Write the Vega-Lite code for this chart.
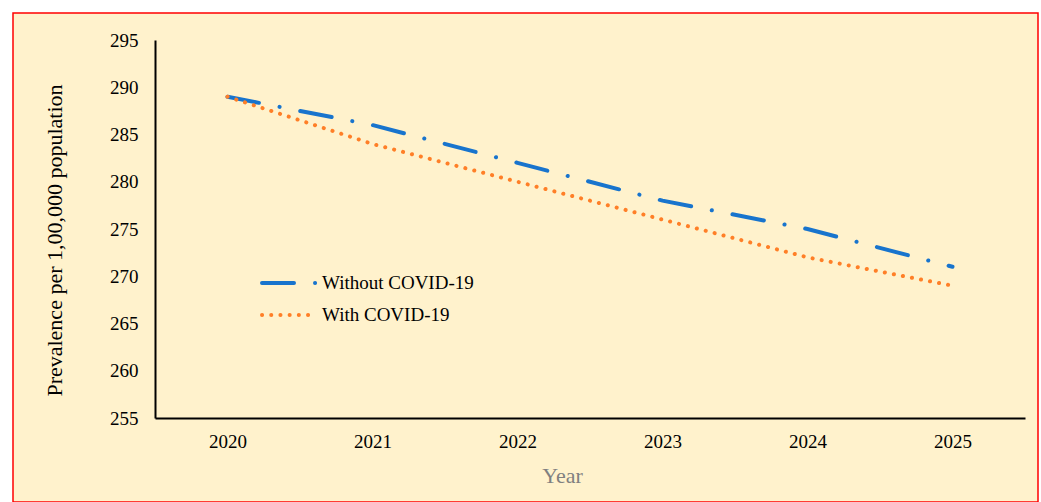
{
  "$schema": "https://vega.github.io/schema/vega-lite/v6.json",
  "autosize": "none",
  "padding": {"left": 13, "top": 13, "right": 3, "bottom": 0},
  "width": 1025,
  "height": 489,
  "background": "#FFFFFF",
  "config": {
    "view": {"fill": "#FFF2CC", "stroke": "#FF0000", "strokeWidth": 1.5},
    "font": "Liberation Serif"
  },
  "data": {
    "values": [
      {"Year": "2020", "Scenario": "Without COVID-19", "Value": 289},
      {"Year": "2021", "Scenario": "Without COVID-19", "Value": 286},
      {"Year": "2022", "Scenario": "Without COVID-19", "Value": 282},
      {"Year": "2023", "Scenario": "Without COVID-19", "Value": 278},
      {"Year": "2024", "Scenario": "Without COVID-19", "Value": 275},
      {"Year": "2025", "Scenario": "Without COVID-19", "Value": 271},
      {"Year": "2020", "Scenario": "With COVID-19", "Value": 289},
      {"Year": "2021", "Scenario": "With COVID-19", "Value": 284},
      {"Year": "2022", "Scenario": "With COVID-19", "Value": 280},
      {"Year": "2023", "Scenario": "With COVID-19", "Value": 276},
      {"Year": "2024", "Scenario": "With COVID-19", "Value": 272},
      {"Year": "2025", "Scenario": "With COVID-19", "Value": 269}
    ]
  },
  "mark": {"type": "line", "strokeWidth": 4, "strokeCap": "round"},
  "encoding": {
    "x": {
      "field": "Year",
      "type": "ordinal",
      "scale": {"type": "point", "padding": 0.5, "range": [142, 1012]},
      "axis": {
        "orient": "bottom",
        "offset": -84,
        "title": "Year",
        "labelAngle": 0,
        "domainColor": "#000000",
        "domainWidth": 2,
        "ticks": false,
        "grid": false,
        "labelFont": "Liberation Serif",
        "labelFontSize": 19,
        "labelColor": "#000000",
        "labelPadding": 14,
        "titleFont": "Liberation Serif",
        "titleFontSize": 22,
        "titleFontWeight": "normal",
        "titleColor": "#808080",
        "titlePadding": 14,
        "titleX": 549
      }
    },
    "y": {
      "field": "Value",
      "type": "quantitative",
      "scale": {"domain": [255, 295], "range": [405, 27], "zero": false, "nice": false},
      "axis": {
        "orient": "left",
        "offset": -142,
        "title": "Prevalence per 1,00,000 population",
        "values": [255, 260, 265, 270, 275, 280, 285, 290, 295],
        "domainColor": "#000000",
        "domainWidth": 2,
        "ticks": false,
        "grid": false,
        "labelFont": "Liberation Serif",
        "labelFontSize": 19,
        "labelColor": "#000000",
        "labelPadding": 17,
        "titleFont": "Liberation Serif",
        "titleFontSize": 22,
        "titleFontWeight": "normal",
        "titleColor": "#000000",
        "titlePadding": 43,
        "titleY": 227
      }
    },
    "color": {
      "field": "Scenario",
      "type": "nominal",
      "scale": {"domain": ["Without COVID-19", "With COVID-19"], "range": ["#1874CD", "#FF7F27"]},
      "legend": {
        "title": null,
        "orient": "none",
        "legendX": 247,
        "legendY": 260,
        "symbolType": "stroke",
        "symbolSize": 3025,
        "symbolStrokeWidth": 4,
        "clipHeight": 20,
        "labelFont": "Liberation Serif",
        "labelFontSize": 19,
        "labelColor": "#000000",
        "labelOffset": 3,
        "rowPadding": 12,
        "encode": {"symbols": {"update": {"strokeCap": {"value": "round"}}}}
      }
    },
    "strokeDash": {
      "field": "Scenario",
      "type": "nominal",
      "scale": {"domain": ["Without COVID-19", "With COVID-19"], "range": [[32, 21, 0.1, 21], [0.1, 9.1]]},
      "legend": null
    }
  }
}
